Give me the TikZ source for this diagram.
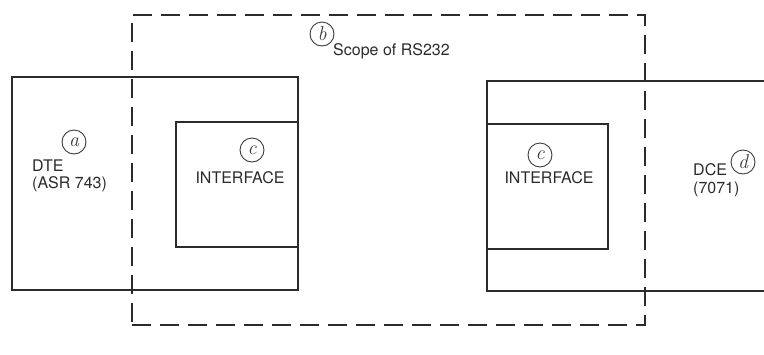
\documentclass[tikz,border=0pt]{standalone}
\usepackage{fontspec}
\setsansfont{TeX Gyre Heros}
\begin{document}
\begin{tikzpicture}[x=1pt,y=-1pt,font=\sffamily\fontsize{16}{19}\selectfont]
\definecolor{ink}{HTML}{2B2B2B}\definecolor{pen}{HTML}{3C3C3C}
\tikzset{unit/.style={draw=ink,line width=1.3pt,inner sep=0pt,outer sep=0pt,anchor=north west},
  label text/.style={text=ink,inner sep=0pt,anchor=base west},
  scope line/.style={draw=ink,line width=2.5pt,dash pattern=on 19pt off 9pt},
  hand/.style={circle,draw=pen,line width=.9pt,inner sep=0pt,minimum size=24pt,text=pen,font=\rmfamily\itshape\fontsize{20}{20}\selectfont}}
\useasboundingbox (0,0) rectangle (764,354);
\clip (0,0) rectangle (764,354);
% equipment boxes
\node[unit,minimum width=286pt,minimum height=213pt] (dte) at (12,77) {};
\node[unit,minimum width=122pt,minimum height=125pt] (ifl) at (176,122) {};
\node[unit,minimum width=313pt,minimum height=210pt] (dce) at (487,81) {};
\node[unit,minimum width=121pt,minimum height=125pt] (ifr) at (487,124) {};
% scope of the standard
\node[scope line,inner sep=0pt,outer sep=0pt,anchor=north west,minimum width=513pt,minimum height=310pt] (scope) at (132,15) {};
% texts
\node[label text] (dtename) at (32,171) {DTE};
\node[label text] (dtetype) at (32,188) {(ASR 743)};
\node[label text,anchor=base] (ifltext) at (240,183) {INTERFACE};
\node[label text,anchor=base] (ifrtext) at (549,183) {INTERFACE};
\node[label text] (dcename) at (693,175) {DCE};
\node[label text] (dcetype) at (693,193) {(7071)};
\node[label text] (scopetext) at (333,55) {Scope of RS232};
% handwritten marks
\node[hand] (marka) at (74,142) {a};
\node[hand] (markb) at (322,34) {b};
\node[hand] (markcl) at (252,150) {c};
\node[hand] (markcr) at (540,155) {c};
\node[hand] (markd) at (743,162) {d};
\end{tikzpicture}
\end{document}
